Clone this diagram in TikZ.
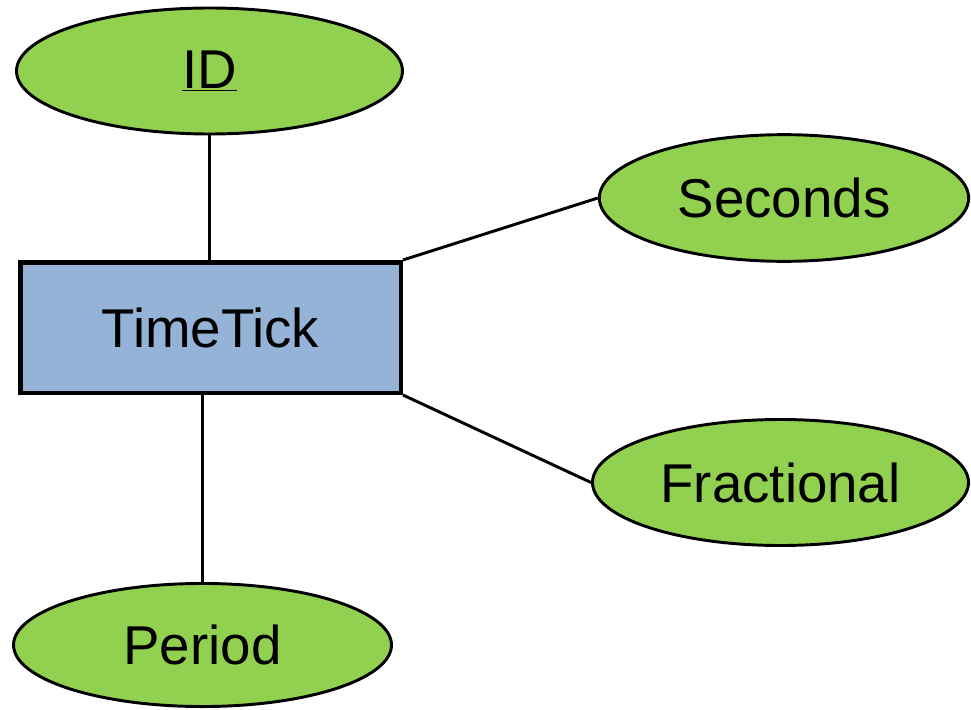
\documentclass[tikz,border=0pt]{standalone}
\usepackage{fontspec}
\setmainfont{Liberation Sans}
\usetikzlibrary{shapes.geometric}
\definecolor{attrgreen}{RGB}{146,208,80}
\definecolor{entblue}{RGB}{149,179,215}
\begin{document}
\begin{tikzpicture}[x=0.75pt,y=-0.75pt,
        attr/.style={ellipse, draw, line width=2.2pt, fill=attrgreen, inner sep=0pt,
            font=\fontsize{41}{49}\selectfont},
        entity/.style={rectangle, draw, line width=3.4pt, fill=entblue, inner sep=0pt,
            font=\fontsize{41}{49}\selectfont},
        link/.style={line width=2.2pt}]
    \useasboundingbox (0,0) rectangle (971,710);

    \node[entity, minimum width=285.4pt, minimum height=97.9pt] (tt) at (210.5,327.5) {TimeTick};

    \node[attr, minimum width=289.5pt, minimum height=94.5pt] (id) at (209.5,71) {\underline{ID}};
    \node[attr, minimum width=277pt, minimum height=95pt] (sec) at (784,198) {Seconds};
    \node[attr, minimum width=282pt, minimum height=94.5pt] (frac) at (780.5,482.5) {Fractional};
    \node[attr, minimum width=283.5pt, minimum height=92.3pt] (per) at (202.5,645) {Period};

    \draw[link] (id.south) -- (id.south |- tt.north);
    \draw[link] (tt.north east) -- (sec.west);
    \draw[link] (tt.south east) -- (frac.west);
    \draw[link] (per.north) -- (per.north |- tt.south);
\end{tikzpicture}
\end{document}
